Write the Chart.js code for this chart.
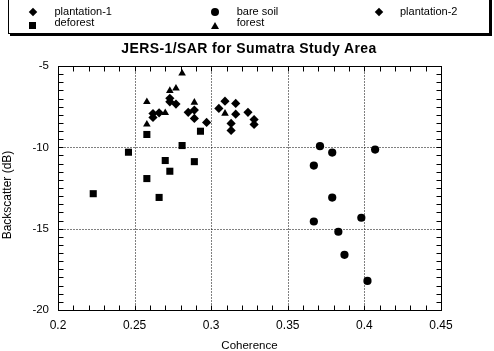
<!DOCTYPE html>
<html><head><meta charset="utf-8">
<script src="https://cdn.jsdelivr.net/npm/chart.js@4"></script>
<style>
html,body{margin:0;padding:0;background:#fff;}
#wrap{position:relative;width:494px;height:351px;overflow:hidden;font-family:"Liberation Sans",Arial,sans-serif;color:#000;}
#c{position:absolute;left:0;top:0;}
#legend{position:absolute;left:8px;top:-2px;width:480px;height:34px;border:1px solid #000;box-shadow:2px 2px 0 #000;background:#fff;}
.lt{position:absolute;font-size:11px;line-height:11px;white-space:nowrap;}
.mk{position:absolute;background:#000;}
.dia{width:6px;height:6px;transform:rotate(45deg);}
.circ{width:8px;height:8px;border-radius:50%;}
.sq{width:7px;height:7px;}
.tri{width:0;height:0;background:none;border-left:4px solid transparent;border-right:4px solid transparent;border-bottom:7px solid #000;}
#title{position:absolute;left:0;width:498px;text-align:center;top:41px;font-size:14px;line-height:14px;font-weight:bold;letter-spacing:0.4px;}
#ytitle{position:absolute;width:140px;height:12px;left:-63.5px;top:189px;text-align:center;font-size:12px;line-height:12px;transform:rotate(-90deg);transform-origin:50% 50%;white-space:nowrap;}
</style>
</head><body>
<div id="wrap">
<canvas id="c" width="494" height="351"></canvas>
<div id="legend"></div>
<div id="title"></div>
<div id="ytitle"></div>
</div>
<script>
// ---- data ----
const seriesNames = ['plantation-1', 'bare soil', 'plantation-2', 'deforest', 'forest'];
const chartTitle = 'JERS-1/SAR for Sumatra Study Area';
const xAxisTitle = 'Coherence';
const yAxisTitle = 'Backscatter (dB)';
const xTickLabels = ['0.2', '0.25', '0.3', '0.35', '0.4', '0.45'];
const yTickLabels = ['-20', '-15', '-10', '-5'];

const plantation1X = [0.273, 0.273, 0.277, 0.262, 0.262, 0.266, 0.285, 0.289, 0.289, 0.297];
const plantation1Y = [-6.99, -7.20, -7.34, -7.92, -8.16, -7.88, -7.85, -7.71, -8.22, -8.47];

const bareSoilX = [0.371, 0.379, 0.407, 0.367, 0.379, 0.398, 0.367, 0.383, 0.387, 0.402];
const bareSoilY = [-9.93, -10.32, -10.14, -11.12, -13.09, -14.33, -14.56, -15.19, -16.61, -18.21];

const plantation2X = [0.305, 0.309, 0.316, 0.316, 0.313, 0.313, 0.324, 0.328, 0.328];
const plantation2Y = [-7.61, -7.16, -7.30, -7.96, -8.53, -8.96, -7.85, -8.29, -8.59];

const deforestX = [0.258, 0.293, 0.281, 0.246, 0.270, 0.289, 0.273, 0.258, 0.223, 0.266];
const deforestY = [-9.21, -9.01, -9.89, -10.30, -10.81, -10.88, -11.47, -11.92, -12.85, -13.08];

const forestX = [0.281, 0.273, 0.277, 0.258, 0.270, 0.289, 0.258, 0.309];
const forestY = [-5.45, -6.52, -6.37, -7.20, -7.88, -7.24, -8.59, -7.92];

// ---- build ----
const pts = (xs, ys) => xs.map((x, i) => ({x: x, y: ys[i]}));
const styles = [
  {pointStyle: 'rectRot', radius: 4.6},
  {pointStyle: 'circle', radius: 4.1},
  {pointStyle: 'rectRot', radius: 4.6},
  {pointStyle: 'rect', radius: 5},
  {pointStyle: 'triangle', radius: 4.4}
];
const seriesData = [
  pts(plantation1X, plantation1Y),
  pts(bareSoilX, bareSoilY),
  pts(plantation2X, plantation2Y),
  pts(deforestX, deforestY),
  pts(forestX, forestY)
];

document.getElementById('title').textContent = chartTitle;
document.getElementById('ytitle').textContent = yAxisTitle;

// legend (HTML)
const legendPos = [
  {mx: 32.7, my: 12.3, tx: 54.5, ty: 5.7, cls: 'dia'},
  {mx: 215, my: 12.3, tx: 236.7, ty: 5.7, cls: 'circ'},
  {mx: 379.3, my: 12.3, tx: 400, ty: 5.7, cls: 'dia'},
  {mx: 32.7, my: 25, tx: 54.5, ty: 17.4, cls: 'sq'},
  {mx: 215, my: 25, tx: 236.7, ty: 17.4, cls: 'tri'}
];
const legendEl = document.getElementById('legend');
const sizes = {dia: [6, 6], circ: [8, 8], sq: [7, 7], tri: [8, 7]};
seriesNames.forEach((name, i) => {
  const p = legendPos[i];
  const m = document.createElement('div');
  m.className = 'mk ' + p.cls;
  const s = sizes[p.cls];
  m.style.left = (Math.round(p.mx - s[0] / 2) - 9) + 'px';
  m.style.top = (Math.round(p.my - s[1] / 2) + 1) + 'px';
  legendEl.appendChild(m);
  const t = document.createElement('div');
  t.className = 'lt';
  t.textContent = name;
  t.style.left = (p.tx - 9) + 'px';
  t.style.top = (p.ty + 1) + 'px';
  legendEl.appendChild(t);
});

// frame, ticks, dotted grid
const framePlugin = {
  id: 'frame',
  beforeDatasetsDraw(chart) {
    const {ctx, chartArea: a, scales: {x, y}} = chart;
    const L = Math.round(a.left) + 0.5, R = Math.round(a.right) + 0.5;
    const T = Math.round(a.top) + 0.5, B = Math.round(a.bottom) + 0.5;
    ctx.save();
    ctx.strokeStyle = '#000';
    ctx.lineWidth = 1;
    // dotted grid at inner major ticks
    ctx.setLineDash([1, 2]);
    ctx.beginPath();
    x.ticks.forEach(t => {
      if (t.value > x.min + 1e-9 && t.value < x.max - 1e-9) {
        const px = Math.round(x.getPixelForValue(t.value)) + 0.5;
        ctx.moveTo(px, T); ctx.lineTo(px, B);
      }
    });
    y.ticks.forEach(t => {
      if (t.value > y.min + 1e-9 && t.value < y.max - 1e-9) {
        const py = Math.round(y.getPixelForValue(t.value)) + 0.5;
        ctx.moveTo(L, py); ctx.lineTo(R, py);
      }
    });
    ctx.stroke();
    ctx.setLineDash([]);
    // minor ticks
    const tl = 5;
    ctx.beginPath();
    for (let k = 0; k <= 25; k++) {
      const v = x.min + k * 0.01;
      const px = Math.round(x.getPixelForValue(v)) + 0.5;
      ctx.moveTo(px, B); ctx.lineTo(px, B - tl);
      ctx.moveTo(px, T); ctx.lineTo(px, T + tl);
    }
    for (let k = 0; k <= 30; k++) {
      const v = y.min + k * 0.5;
      const py = Math.round(y.getPixelForValue(v)) + 0.5;
      ctx.moveTo(L, py); ctx.lineTo(L + tl, py);
      ctx.moveTo(R, py); ctx.lineTo(R - tl, py);
    }
    ctx.stroke();
    // frame
    ctx.strokeRect(L, T, R - L, B - T);
    ctx.restore();
  }
};

const font = {family: '"Liberation Sans", Arial, sans-serif', size: 12};

new Chart(document.getElementById('c'), {
  type: 'scatter',
  data: {
    datasets: seriesNames.map((name, i) => ({
      label: name,
      data: seriesData[i],
      pointStyle: styles[i].pointStyle,
      pointRadius: styles[i].radius,
      pointHoverRadius: styles[i].radius,
      backgroundColor: '#000',
      borderColor: '#000',
      borderWidth: 0,
      showLine: false
    }))
  },
  options: {
    responsive: false,
    animation: false,
    events: [],
    layout: {padding: {top: 66, right: 53, left: 0, bottom: 0}},
    plugins: {legend: {display: false}, tooltip: {enabled: false}, title: {display: false}},
    scales: {
      x: {
        type: 'linear', min: 0.2, max: 0.45,
        ticks: {stepSize: 0.05, padding: 8, color: '#000', font: font, maxRotation: 0,
          callback: (v, i) => xTickLabels[i]},
        grid: {display: false, drawTicks: false},
        border: {display: false},
        title: {display: true, text: xAxisTitle, color: '#000', font: {family: font.family, size: 11.5}, padding: {top: 0, bottom: -1.5}},
        afterFit: s => { s.height = 41; }
      },
      y: {
        type: 'linear', min: -20, max: -5,
        ticks: {stepSize: 5, padding: 9, color: '#000', font: {family: font.family, size: 11.5},
          callback: (v, i) => yTickLabels[i]},
        grid: {display: false, drawTicks: false},
        border: {display: false},
        title: {display: false},
        afterFit: s => { s.width = 58; }
      }
    }
  },
  plugins: [framePlugin]
});
</script>
</body></html>
